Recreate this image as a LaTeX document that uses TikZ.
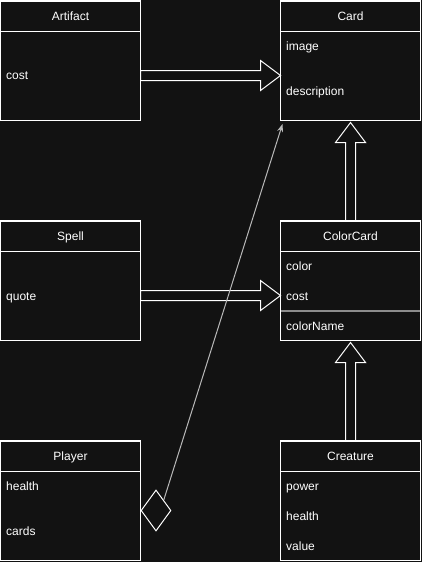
\documentclass[tikz,border=0pt]{standalone}
\usepackage{fontspec}
\setmainfont{Liberation Sans}
\usetikzlibrary{arrows.meta,positioning,shapes.geometric,calc}
\usepackage{xcolor}
\definecolor{bgdark}{HTML}{121212}
\definecolor{sepgray}{HTML}{8C8C8C}
\definecolor{linkgray}{HTML}{B8B8B8}

% hollow block arrows between two named coordinates
\newcommand{\blockright}[2]{%
  \draw[blockarrow] ($(#1)+(0,-5)$) -- ($(#2)+(-20,-5)$) -- ($(#2)+(-20,-15)$) -- (#2)
    -- ($(#2)+(-20,15)$) -- ($(#2)+(-20,5)$) -- ($(#1)+(0,5)$) -- cycle;}
\newcommand{\blockup}[2]{%
  \draw[blockarrow] ($(#1)+(-5,0)$) -- ($(#2)+(-5,20)$) -- ($(#2)+(-15,20)$) -- (#2)
    -- ($(#2)+(15,20)$) -- ($(#2)+(5,20)$) -- ($(#1)+(5,0)$) -- cycle;}

\begin{document}
\begin{tikzpicture}[
    x=1pt, y=-1pt,
    cls/.style={rectangle, draw=white, fill=bgdark, line width=1pt, minimum width=140pt, minimum height=120pt, inner sep=0pt, outer sep=0pt},
    ttl/.style={rectangle, draw=white, line width=1pt, minimum width=140pt, minimum height=30pt, anchor=north, inner sep=0pt, text height=11pt, text depth=2pt, text=white, font=\fontsize{12}{14}\selectfont},
    attr/.style={anchor=base west, inner sep=0pt, text=white, font=\fontsize{12}{14}\selectfont},
    blockarrow/.style={draw=white, line width=1pt, line join=miter},
    sepline/.style={draw=sepgray, line width=1.5pt},
    dia/.style={diamond, draw=white, line width=1pt, minimum width=30pt, minimum height=41pt, inner sep=0pt},
    link/.style={draw=linkgray, line width=1pt, -{Stealth[length=8pt, width=6pt]}}
]
\fill[bgdark] (0,0) rectangle (422,562);
\useasboundingbox (0,0) rectangle (422,562);

% left column
\node[cls] (art) at (70.5,60.5) {};
\node[ttl] (artt) at (art.north) {Artifact};
\node[attr] (artcost) at (6,79.5) {cost};

\node[cls] (spell) at (70.5,280.5) {};
\node[ttl] (spellt) at (spell.north) {Spell};
\node[attr] (spellquote) at (6,300.5) {quote};

\node[cls] (player) at (70.5,500.5) {};
\node[ttl] (playert) at (player.north) {Player};
\node[attr] (playerhp) at (6,490.5) {health};
\node[attr] (playercards) at (6,535.5) {cards};

% right column
\node[cls] (card) at (350.5,60.5) {};
\node[ttl] (cardt) at (card.north) {Card};
\node[attr] (cardimg) at (286,50.5) {image};
\node[attr] (carddesc) at (286,95.5) {description};

\node[cls] (cc) at (350.5,280.5) {};
\node[ttl] (cct) at (cc.north) {ColorCard};
\node[attr] (cccolor) at (286,270.5) {color};
\node[attr] (cccost) at (286,300.5) {cost};
\node[attr] (ccname) at (286,330.5) {colorName};
\draw[sepline] ($(cc.west)+(0.5,30.5)$) -- ($(cc.east)+(-0.5,30.5)$);

\node[cls] (crt) at (350.5,500.5) {};
\node[ttl] (crtt) at (crt.north) {Creature};
\node[attr] (crtpow) at (286,490.5) {power};
\node[attr] (crthp) at (286,520.5) {health};
\node[attr] (crtval) at (286,550.5) {value};

% inheritance
\coordinate (a1) at ($(art.east)+(0,15)$);
\coordinate (a2) at (card.west |- a1);
\blockright{a1}{a2}
\coordinate (s1) at ($(spell.east)+(0,15)$);
\coordinate (s2) at (cc.west |- s1);
\blockright{s1}{s2}
\coordinate (c1) at (cc.north);
\coordinate (c2) at ($(card.south)+(0,2)$);
\blockup{c1}{c2}
\coordinate (r1) at (crt.north);
\coordinate (r2) at ($(cc.south)+(0,2)$);
\blockup{r1}{r2}

% aggregation
\node[dia] (agg) at (156,510.5) {};
\coordinate (cardtip) at ($(card.south west)+(2,3.5)$);
\draw[link] (agg.north east) -- (cardtip);
\end{tikzpicture}
\end{document}
